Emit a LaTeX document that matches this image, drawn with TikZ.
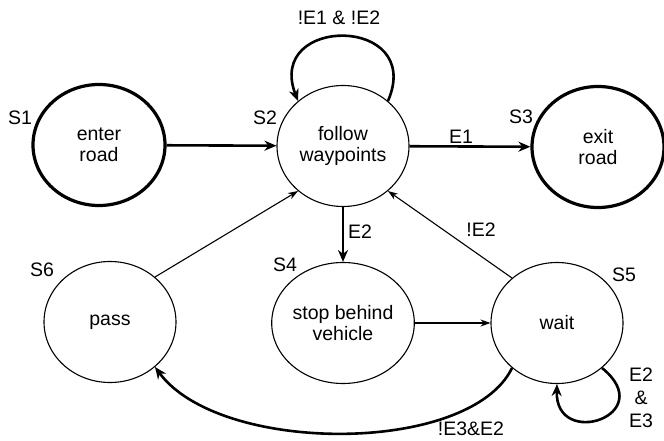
\documentclass[tikz,border=0pt]{standalone}
\usepackage{fontspec}
\setmainfont{Liberation Sans}
\usetikzlibrary{shapes.geometric,arrows.meta}
\begin{document}
\begin{tikzpicture}[x=1pt,y=-1pt,
  font=\fontsize{19.5}{21.5}\selectfont,
  state/.style={ellipse,draw,line width=1.1pt,minimum width=132pt,minimum height=121pt,inner sep=0pt,align=center},
  final/.style={state,line width=3.2pt},
  tag/.style={inner sep=0pt},
  thickarrow/.style={line width=2.6pt,-{Stealth[length=12pt,width=10pt]}},
  thinarrow/.style={line width=1.1pt,-{Stealth[length=10pt,width=7pt]}}]
\useasboundingbox (0,0) rectangle (664,441);

% states
\node[final] (s1) at (99,145) {enter\\road};
\node[state] (s2) at (343,146) {follow\\waypoints};
\node[final] (s3) at (598,147) {exit\\road};
\node[state] (s4) at (343,323) {stop behind\\vehicle};
\node[state] (s5) at (557,323) {wait};
\node[state] (s6) at (110,322) {pass};

% state names
\node[tag] (n1) at (20,118) {S1};
\node[tag] (n2) at (265,118) {S2};
\node[tag] (n3) at (521,117) {S3};
\node[tag] (n4) at (285,265) {S4};
\node[tag] (n5) at (624,275) {S5};
\node[tag] (n6) at (42,270) {S6};

% transitions
\draw[thickarrow] (s1) -- (s2);
\draw[thickarrow] (s2) -- (s3);
\draw[thickarrow] (s2) -- (s4);
\draw[thickarrow] (s2.45) .. controls (425,15) and (265,15) .. (s2.135);
\draw[thinarrow] (s4) -- (s5);
\draw[thinarrow] (s5.135) -- (s2.315);
\draw[thinarrow] (s6.45) -- (s2.225);
\draw[thickarrow] (s5.225) .. controls (470,455) and (220,455) .. (s6.315);
\draw[thickarrow] (s5.315) .. controls (660,415) and (555,450) .. (s5.270);

% conditions
\node[tag] (c1) at (339,18) {!E1 \& !E2};
\node[tag] (c2) at (461,137) {E1};
\node[tag] (c3) at (360,232) {E2};
\node[tag] (c4) at (481,230) {!E2};
\node[tag] (c5) at (471,429) {!E3\&E2};
\node[tag,align=center,font=\fontsize{19.5}{23}\selectfont] (c6) at (641,398) {E2\\\&\\E3};
\end{tikzpicture}
\end{document}
